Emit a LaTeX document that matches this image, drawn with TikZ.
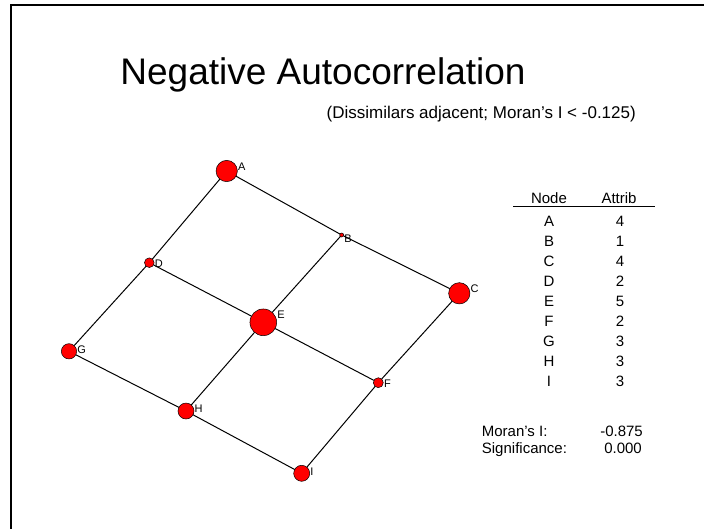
\documentclass[tikz,border=0pt]{standalone}
\usepackage{fontspec}
\setmainfont{Liberation Sans}
\usetikzlibrary{positioning}

\begin{document}
\begin{tikzpicture}[x=1pt, y=-1pt,
  vtx/.style={circle, draw=black, line width=0.5pt, fill=red, inner sep=0pt, outer sep=0pt},
  lbl/.style={font=\fontsize{11}{12}\selectfont, inner sep=0.5pt, anchor=north west},
  link/.style={line width=1pt},
  tab/.style={font=\fontsize{15}{17}\selectfont, inner sep=0pt, anchor=base}]
  \useasboundingbox (0,0) rectangle (704,528);
  % Cadre
  \draw[line width=2pt] (11,540) -- (11,5) -- (720,5);
  % Titre
  \node[font=\fontsize{37}{40}\selectfont, inner sep=0pt, anchor=base] (title) at (323,84.3) {Negative Autocorrelation};
  \node[font=\fontsize{17}{19}\selectfont, inner sep=0pt, anchor=base east] (subtitle) at (636,118) {(Dissimilars adjacent; Moran’s I < -0.125)};
  % Reseau
  \foreach \n/\x/\y/\d in {A/226.7/171/21.3, B/341.7/235/4, C/459.3/293.3/21.3,
                           D/149.3/262.7/9.7, E/263.3/322.3/26.7, F/378.3/382.7/10,
                           G/69/351.3/15.3, H/186/411/16, I/301.7/473.3/16}
    \node[vtx, minimum size=\d pt] (\n) at (\x,\y) {};
  \foreach \a/\b in {A/B, A/D, B/C, B/E, D/E, D/G, C/F, E/F, E/H, G/H, H/I, F/I}
    \draw[link] (\a) -- (\b);
  \foreach \n in {A,...,I}
    \node[lbl, yshift=-1.5pt] (l\n) at (\n.east |- \n.north) {\n};
  % Tableau
  \node[tab] (hnode) at (549,203.5) {Node};
  \node[tab] (hattr) at (619,203.5) {Attrib};
  \draw[line width=0.8pt] (513,206) -- (655,206);
  \foreach \n/\v [count=\i from 0] in {A/4, B/1, C/4, D/2, E/5, F/2, G/3, H/3, I/3} {
    \node[tab] (n\n) at (549,226+20*\i) {\n};
    \node[tab] (v\n) at (620,226+20*\i) {\v};
  }
  % Moran
  \node[tab, anchor=base west] (mlab) at (481.7,436.7) {Moran’s I:};
  \node[tab, anchor=base east] (mval) at (643,436.7) {-0.875};
  \node[tab, anchor=base west] (slab) at (481.7,453.5) {Significance:};
  \node[tab, anchor=base east] (sval) at (642,453.5) {0.000};
\end{tikzpicture}
\end{document}
